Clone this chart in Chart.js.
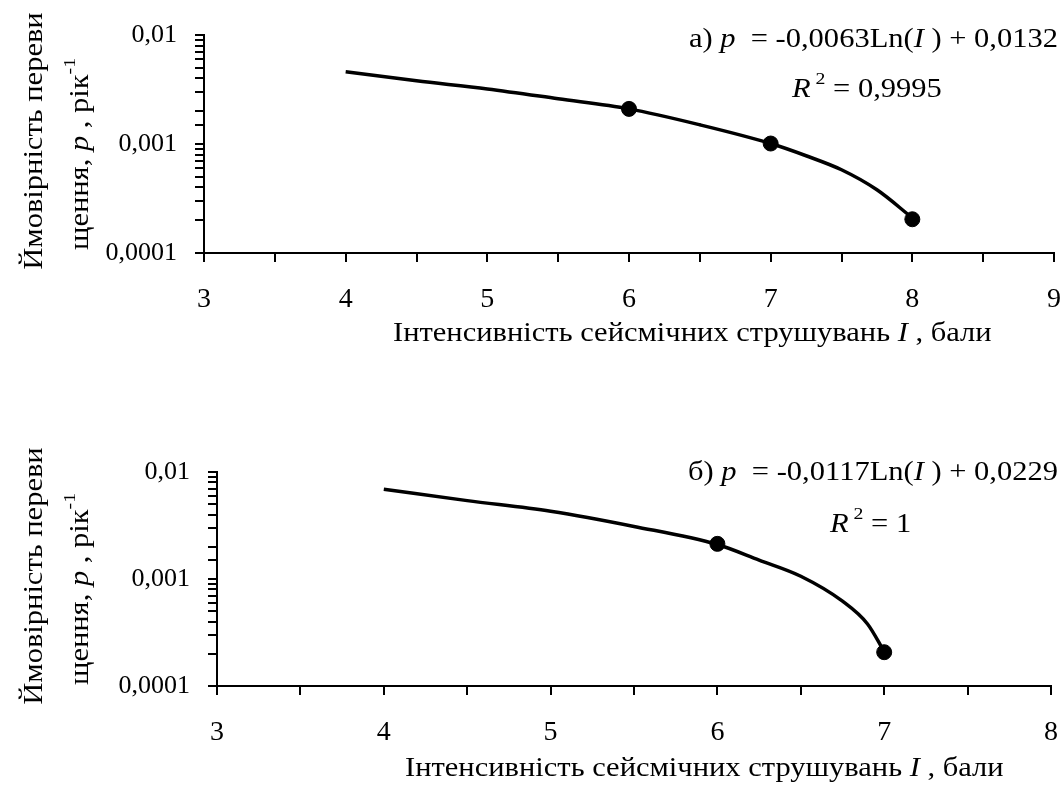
<!DOCTYPE html>
<html>
<head>
<meta charset="utf-8">
<script src="https://cdn.jsdelivr.net/npm/chart.js@4.4.0/dist/chart.umd.min.js"></script>
<style>
  html, body { margin: 0; padding: 0; background: #fff; }
  #wrap { position: relative; width: 1064px; height: 789px; }
  canvas { position: absolute; left: 0; }
</style>
</head>
<body>
<div id="wrap">
  <canvas id="chartA" width="1064" height="395" style="top:0"></canvas>
  <canvas id="chartB" width="1064" height="394" style="top:395px"></canvas>
</div>
<script>
// panel а): trend line read off the picture + observed points
const trendI_a = [4, 4.5, 5, 5.5, 6, 6.5, 7, 7.25, 7.5, 7.75, 8]
const trendP_a = [0.0046, 0.0038, 0.0032, 0.0026, 0.0021, 0.0015, 0.00101, 0.00078, 0.00058, 0.00038, 0.00021]
const pointsI_a = [6, 7, 8]
const pointsP_a = [0.0021, 0.00101, 0.000204]

// panel б)
const trendI_b = [4, 4.5, 5, 5.5, 6, 6.25, 6.5, 6.75, 6.9, 7]
const trendP_b = [0.0069, 0.0054, 0.0043, 0.0031, 0.0021, 0.0015, 0.00106, 0.00062, 0.00038, 0.00021]
const pointsI_b = [6, 7]
const pointsP_b = [0.00213, 0.000207]

// axes
const yTickValues = [0.0001, 0.001, 0.01]
const yTickLabels = ["0,0001", "0,001", "0,01"]
const xRange_a = [3, 9]
const xRange_b = [3, 8]

const FONT = '"Liberation Serif", "Times New Roman", serif'
const STRETCH = 1.13
const TXT = 27

function runFont(r, size) {
  return (r.it ? "italic " : "") + size + "px " + FONT
}

// draws a line of mixed text (italic / superscript parts)
function drawRuns(ctx, runs, x, y, align, rotate) {
  ctx.save()
  ctx.translate(x, y)
  if (rotate) ctx.rotate(rotate)
  ctx.scale(STRETCH, 1)
  ctx.fillStyle = "#000"
  ctx.textBaseline = "alphabetic"
  ctx.textAlign = "left"
  let w = 0
  runs.forEach(r => {
    ctx.font = runFont(r, r.sup ? TXT * 0.65 : TXT)
    w += ctx.measureText(r.t).width
  })
  let cx = 0
  if (align === "right") cx = -w
  if (align === "center") cx = -w / 2
  runs.forEach(r => {
    ctx.font = runFont(r, r.sup ? TXT * 0.65 : TXT)
    ctx.fillText(r.t, cx, r.sup ? -TXT * 0.47 : 0)
    cx += ctx.measureText(r.t).width
  })
  ctx.restore()
}

const yTitle1 = [{ t: "Ймовірність переви" }]
const yTitle2 = [{ t: "щення, " }, { t: "p", it: true }, { t: " , рік" }, { t: "-1", sup: true }]
const xTitle = [{ t: "Інтенсивність сейсмічних струшувань " }, { t: "I", it: true }, { t: " , бали" }]

const texts_a = [
  { runs: [{ t: "а) " }, { t: "p", it: true }, { t: "  = -0,0063Ln(" }, { t: "I", it: true }, { t: " ) + 0,0132" }], x: 1058, y: 47, align: "right" },
  { runs: [{ t: "R", it: true }, { t: " 2", sup: true }, { t: " = 0,9995" }], x: 792, y: 97, align: "left" },
  { runs: yTitle1, x: 42, y: 141, align: "center", rot: -Math.PI / 2 },
  { runs: yTitle2, x: 88, y: 154, align: "center", rot: -Math.PI / 2 },
  { runs: xTitle, x: 393, y: 341, align: "left" },
]
const texts_b = [
  { runs: [{ t: "б) " }, { t: "p", it: true }, { t: "  = -0,0117Ln(" }, { t: "I", it: true }, { t: " ) + 0,0229" }], x: 1058, y: 480, align: "right" },
  { runs: [{ t: "R", it: true }, { t: " 2", sup: true }, { t: " = 1" }], x: 830, y: 532, align: "left" },
  { runs: yTitle1, x: 42, y: 576, align: "center", rot: -Math.PI / 2 },
  { runs: yTitle2, x: 88, y: 589, align: "center", rot: -Math.PI / 2 },
  { runs: xTitle, x: 405, y: 776, align: "left" },
]

function textPlugin(texts, offsetY) {
  return {
    id: "richText",
    afterDraw(chart) {
      const ctx = chart.ctx
      texts.forEach(tx => drawRuns(ctx, tx.runs, tx.x, tx.y - offsetY, tx.align, tx.rot))
    }
  }
}

function makeChart(id, o) {
  const axisGrid = { display: true, drawOnChartArea: false, drawTicks: true, tickLength: 9, color: "#000", lineWidth: 2 }
  const axisBorder = { display: true, color: "#000", width: 2 }
  return new Chart(document.getElementById(id), {
    type: "scatter",
    data: {
      datasets: [
        {
          data: o.pI.map((v, i) => ({ x: v, y: o.pP[i] })),
          pointRadius: 7.5,
          pointBackgroundColor: "#000",
          pointBorderColor: "#000",
          showLine: false,
          order: 0,
        },
        {
          data: o.tI.map((v, i) => ({ x: v, y: o.tP[i] })),
          showLine: true,
          borderColor: "#000",
          borderWidth: 3.5,
          pointRadius: 0,
          cubicInterpolationMode: "monotone",
          order: 1,
        },
      ],
    },
    options: {
      responsive: false,
      animation: false,
      events: [],
      layout: { padding: { left: 0, top: o.top, right: o.right, bottom: 0 } },
      plugins: { legend: { display: false }, tooltip: { enabled: false }, title: { display: false } },
      scales: {
        x: {
          type: "linear",
          min: o.xr[0],
          max: o.xr[1],
          afterFit: s => { s.height = o.xh; s.paddingLeft = 0; s.paddingRight = 0 },
          ticks: {
            stepSize: 0.5,
            autoSkip: false,
            maxRotation: 0,
            padding: 21,
            color: "#000",
            font: { family: FONT, size: 28 },
            callback: v => Number.isInteger(v) ? String(v) : "",
          },
          grid: axisGrid,
          border: axisBorder,
        },
        y: {
          type: "logarithmic",
          min: 0.0001,
          max: 0.01,
          afterFit: s => { s.width = o.yw; s.paddingTop = 0; s.paddingBottom = 0 },
          ticks: {
            autoSkip: false,
            padding: 18,
            color: "#000",
            font: { family: FONT, size: 26 },
            callback: v => {
              const i = yTickValues.findIndex(t => Math.abs(t - v) / t < 1e-6)
              return i >= 0 ? yTickLabels[i] : ""
            },
          },
          grid: axisGrid,
          border: axisBorder,
        },
      },
    },
    plugins: [textPlugin(o.texts, o.offsetY)],
  })
}

makeChart("chartA", {
  tI: trendI_a, tP: trendP_a, pI: pointsI_a, pP: pointsP_a, xr: xRange_a,
  top: 35, right: 10, yw: 204, xh: 142, texts: texts_a, offsetY: 0,
})
makeChart("chartB", {
  tI: trendI_b, tP: trendP_b, pI: pointsI_b, pP: pointsP_b, xr: xRange_b,
  top: 77, right: 13, yw: 217, xh: 103, texts: texts_b, offsetY: 395,
})
</script>
</body>
</html>
